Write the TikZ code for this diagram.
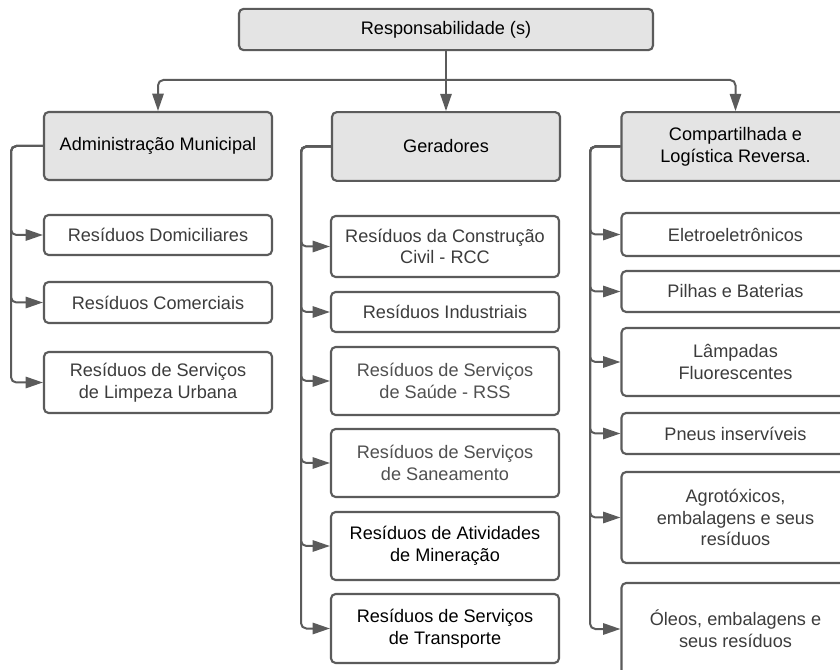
\documentclass[tikz,border=0pt]{standalone}
\usepackage{fontspec}
\setmainfont{Liberation Sans}
\usetikzlibrary{arrows.meta}
\definecolor{linec}{HTML}{5B5B5B}
\definecolor{headf}{HTML}{E4E4E4}
\definecolor{txtc}{HTML}{3C3C3C}
\definecolor{txtl}{HTML}{505050}
\tikzset{
  base/.style={draw=linec, line width=1.6pt, rounded corners=3.5pt, inner sep=0pt,
    align=center, font=\fontsize{13.6}{16.3}\selectfont, minimum width=171pt},
  head/.style={base, fill=headf, text=black},
  leaf/.style={base, fill=white, text=txtc},
  conn/.style={draw=linec, line width=1.5pt, rounded corners=4pt,
    -{Triangle[length=13pt,width=8.5pt]}},
  line/.style={draw=linec, line width=1.5pt, rounded corners=4pt}
}
\begin{document}
\begin{tikzpicture}[x=0.75pt,y=-0.75pt]
\useasboundingbox (0,0) rectangle (840,670);
\clip (0,0) rectangle (840,670);
% top
\node[head, minimum width=310.5pt, minimum height=31pt] (top) at (446,29.5) {Responsabilidade (s)};
% headers
\node[head, minimum height=51pt] (adm) at (158,146) {Administração Municipal};
\node[head, minimum height=51.5pt] (ger) at (446,146.5) {Geradores};
\node[head, minimum height=51.5pt] (com) at (735.5,146.5) {Compartilhada e\\Logística Reversa.};
% column 1
\node[leaf, minimum height=30pt] (dom) at (158,235) {Resíduos Domiciliares};
\node[leaf, minimum height=30.75pt] (cme) at (158,302.5) {Resíduos Comerciais};
\node[leaf, minimum height=45.75pt] (lim) at (158,382.5) {Resíduos de Serviços\\de Limpeza Urbana};
% column 2
\node[leaf, minimum height=45.75pt] (rcc) at (445,246.5) {Resíduos da Construção\\Civil - RCC};
\node[leaf, minimum height=30pt] (ind) at (445,312) {Resíduos Industriais};
\node[leaf, minimum height=51pt, text=txtl] (rss) at (445,381) {Resíduos de Serviços\\de Saúde - RSS};
\node[leaf, minimum height=51pt, text=txtl] (san) at (445,463) {Resíduos de Serviços\\de Saneamento};
\node[leaf, minimum height=51pt, text=black] (min) at (445,546) {Resíduos de Atividades\\de Mineração};
\node[leaf, minimum height=51.75pt, text=black] (tra) at (445,628.5) {Resíduos de Serviços\\de Transporte};
% column 3
\node[leaf, minimum height=32.25pt] (ele) at (735.5,234.5) {Eletroeletrônicos};
\node[leaf, minimum height=30.75pt] (pil) at (735.5,291.5) {Pilhas e Baterias};
\node[leaf, minimum height=51pt] (lam) at (735.5,362) {Lâmpadas\\Fluorescentes};
\node[leaf, minimum height=30.75pt] (pne) at (735.5,433.5) {Pneus inservíveis};
\node[leaf, minimum height=68.25pt] (agr) at (735.5,517.5) {Agrotóxicos,\\embalagens e seus\\resíduos};
\node[leaf, minimum height=69pt] (ole) at (735.5,629) {Óleos, embalagens e\\seus resíduos};
% top connectors
\coordinate (j) at (446,80);
\draw[line] (top.south) -- (j);
\draw[conn] (j) -| (adm.north);
\draw[conn] (j) -- (ger.north);
\draw[conn] (j) -| (com.north);
% trunks
\coordinate (t1) at (11,0);
\coordinate (t2) at (301,0);
\coordinate (t3) at (590,0);
\foreach \c in {dom,cme,lim}
  \draw[conn] (adm.west) -- (adm.west -| t1) |- (\c.west);
\foreach \c in {rcc,ind,rss,san,min,tra}
  \draw[conn] (ger.west) -- (ger.west -| t2) |- (\c.west);
\foreach \c in {ele,pil,lam,pne,agr,ole}
  \draw[conn] (com.west) -- (com.west -| t3) |- (\c.west);
\end{tikzpicture}
\end{document}
